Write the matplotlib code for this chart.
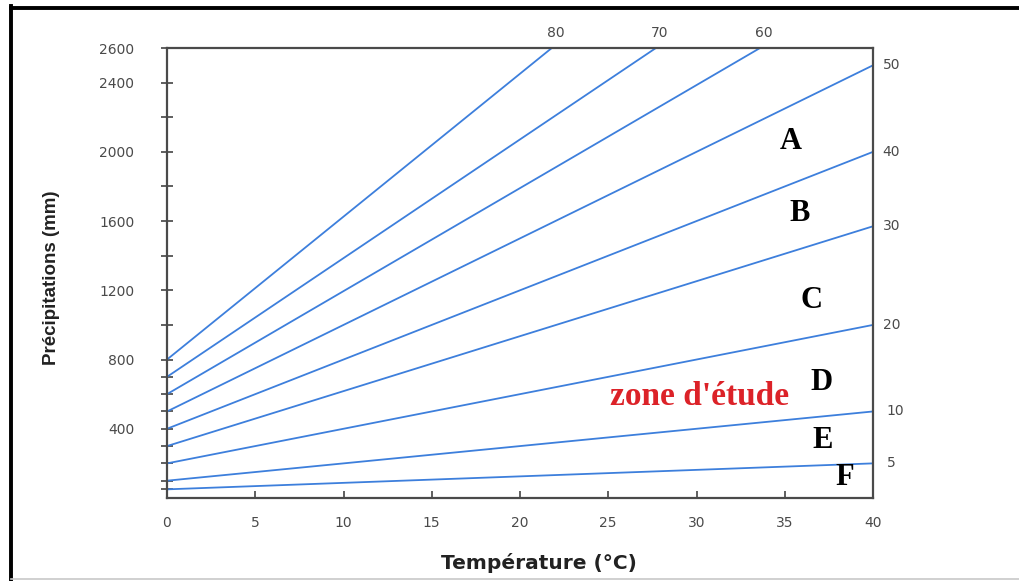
import matplotlib
matplotlib.use("Agg")
import matplotlib.pyplot as plt
from matplotlib.lines import Line2D

# De Martonne aridity index lines
indices = [80, 70, 60, 50, 40, 30, 20, 10, 5]
p_start = [800, 700, 600, 500, 400, 300, 200, 100, 50]      # P at T = 0
t_end = [21.8, 27.7, 33.6, 40, 40, 40, 40, 40, 40]           # T at end of line
p_end = [2600, 2600, 2600, 2500, 2000, 1570, 1000, 500, 200]  # P at end of line

zone_letters = ["A", "B", "C", "D", "E", "F"]
zone_t = [35.35, 35.86, 36.54, 37.11, 37.16, 38.41]
zone_p = [2057, 1641, 1144, 670, 335, 116]

study_label = "zone d'étude"
study_t, study_p = 30.2, 584

x_ticks = [0, 5, 10, 15, 20, 25, 30, 35, 40]
y_ticks = [50, 100, 200, 300, 400, 500, 600, 700, 800, 1000, 1200, 1400,
           1600, 1800, 2000, 2200, 2400, 2600]
y_labeled = [400, 800, 1200, 1600, 2000, 2400, 2600]

W, H = 1020, 581
fig = plt.figure(figsize=(W / 100, H / 100), dpi=100)
ax = fig.add_axes([167 / W, 1 - 498 / H, 706 / W, 450 / H])

line_color = "#3d7fdc"
gray = "#4a4a4a"

for idx, p0, te, pe in zip(indices, p_start, t_end, p_end):
    ax.plot([0, te], [p0, pe], color=line_color, lw=1.3, solid_capstyle="butt",
            clip_on=False)
    if pe >= 2600:
        ax.annotate(str(idx), (te, pe), xytext=(3, 11), textcoords="offset points",
                    ha="center", va="center", fontsize=10, color=gray,
                    annotation_clip=False)
    else:
        ax.annotate(str(idx), (te, pe), xytext=(7 if idx not in (10, 5) else 10, 0),
                    textcoords="offset points", ha="left", va="center",
                    fontsize=10, color=gray, annotation_clip=False)

ax.set_xlim(0, 40)
ax.set_ylim(0, 2600)

ax.set_xticks(x_ticks)
ax.set_xticklabels([str(v) for v in x_ticks])
ax.set_yticks(y_ticks)
ax.set_yticklabels([str(v) if v in y_labeled else "" for v in y_ticks])

ax.tick_params(axis="x", direction="in", length=5, width=1.2, color="#444444",
               labelsize=10, labelcolor=gray, pad=13)
ax.tick_params(axis="y", direction="inout", length=9, width=1.2, color="#444444",
               labelsize=10, labelcolor=gray, pad=19)

for s in ax.spines.values():
    s.set_color("#4a4a4a")
    s.set_linewidth(1.6)

for lt, tt, pp in zip(zone_letters, zone_t, zone_p):
    ax.text(tt, pp, lt, ha="center", va="center", fontsize=22, fontweight="bold",
            family="Liberation Serif", color="black")

ax.text(study_t, study_p, study_label, ha="center", va="center", fontsize=24,
        fontweight="bold", family="Liberation Serif", color="#dc2228")

fig.text(52 / W, 1 - 278 / H, "Précipitations (mm)", rotation=90, ha="center",
         va="center", fontsize=13.5, fontweight="bold", family="Liberation Sans",
         color="#222222")
fig.text(539 / W, 1 - 563 / H, "Température (°C)", ha="center", va="center",
         fontsize=14.5, fontweight="bold", family="DejaVu Sans", color="#222222")

# outer frame
fig.add_artist(Line2D([11.5 / W, 1.0], [1 - 7.5 / H, 1 - 7.5 / H],
                      transform=fig.transFigure, color="black", lw=2.8))
fig.add_artist(Line2D([11.5 / W, 11.5 / W], [1 - 6 / H, 0],
                      transform=fig.transFigure, color="black", lw=2.8))
fig.add_artist(Line2D([11.5 / W, 1.0], [1 - 579 / H, 1 - 579 / H],
                      transform=fig.transFigure, color="#c8c8c8", lw=1.2))

fig.savefig("out.png", dpi=100)
